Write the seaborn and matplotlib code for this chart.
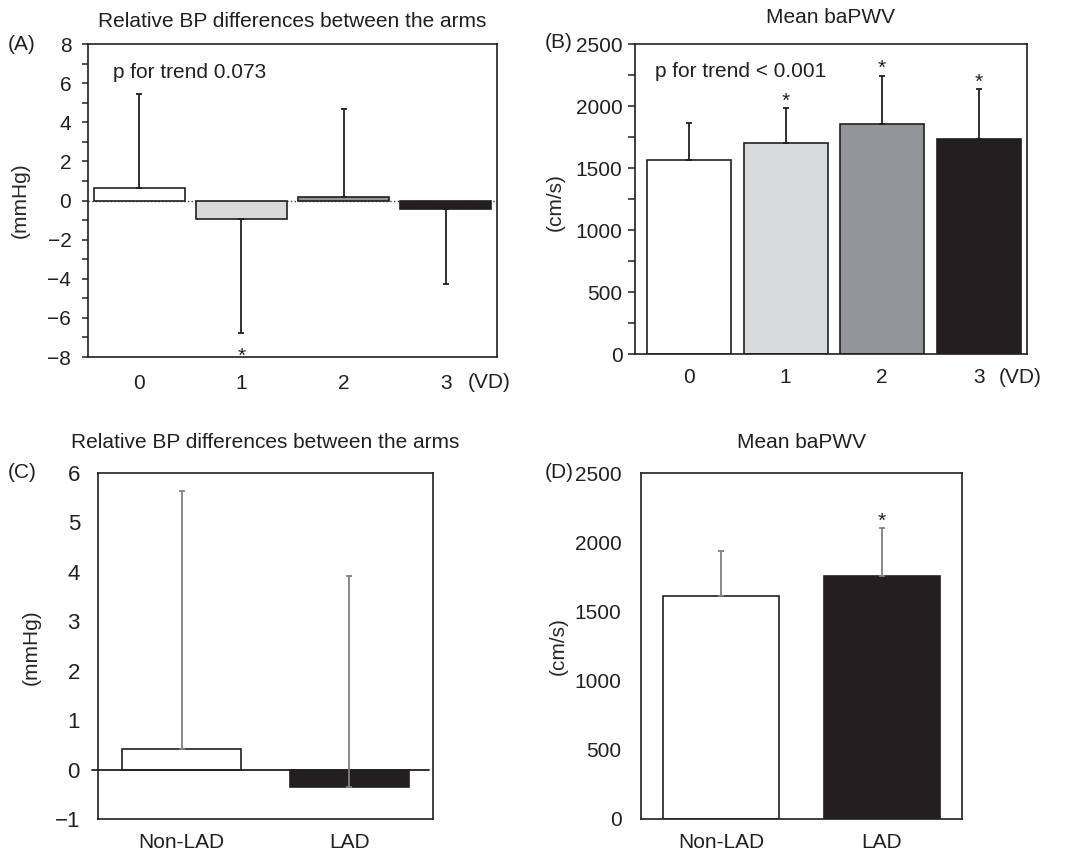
import numpy as np
import pandas as pd
import matplotlib
matplotlib.use("Agg")
import matplotlib.pyplot as plt
from matplotlib.ticker import MultipleLocator
import seaborn as sns

# ---------------- data ----------------
vd_groups = ["0", "1", "2", "3"]
bp_vd_mean = [0.65, -0.95, 0.18, -0.45]
bp_vd_sd = [4.8, 5.8, 4.5, 3.8]
pwv_vd_mean = [1562, 1704, 1857, 1731]
pwv_vd_sd = [298, 277, 388, 403]
pwv_vd_sig = [False, True, True, True]
bp_vd_sig = [False, True, False, False]

lad_groups = ["Non-LAD", "LAD"]
bp_lad_mean = [0.41, -0.35]
bp_lad_sd = [5.23, 4.26]
pwv_lad_mean = [1610, 1754]
pwv_lad_sd = [329, 349]
pwv_lad_sig = [False, True]

vd_colors = ["#ffffff", "#d9dadb", "#939598", "#231f20"]
lad_colors = ["#ffffff", "#231f20"]

# ---------------- style ----------------
sns.set_theme(style="white")
plt.rcParams["font.family"] = ["Liberation Sans", "DejaVu Sans"]
plt.rcParams["axes.edgecolor"] = "#231f20"
plt.rcParams["text.color"] = "#231f20"
plt.rcParams["xtick.color"] = "#231f20"
plt.rcParams["ytick.color"] = "#231f20"

W, H = 1071, 857
fig = plt.figure(figsize=(W / 100, H / 100), dpi=100)
fig.patch.set_facecolor("white")


def add_ax(l, r, t, b):
    return fig.add_axes([l / W, 1 - b / H, (r - l) / W, (b - t) / H])


FS = 15


def bars(ax, cats, means, colors, width, edge_lw):
    df = pd.DataFrame({"g": cats, "v": means})
    sns.barplot(data=df, x="g", y="v", hue="g", palette=colors, ax=ax,
                width=width, edgecolor="#231f20", linewidth=edge_lw,
                errorbar=None, legend=False, saturation=1, order=cats,
                hue_order=cats)


def style_spines(ax, lw):
    for s in ax.spines.values():
        s.set_visible(True)
        s.set_linewidth(lw)
        s.set_color("#231f20")


# ---------------- Panel A ----------------
axA = add_ax(88, 497, 44, 357)
bars(axA, vd_groups, bp_vd_mean, vd_colors, 0.89, 1.2)
x = np.arange(len(vd_groups))
lower = [sd if m < 0 else 0 for m, sd in zip(bp_vd_mean, bp_vd_sd)]
upper = [sd if m >= 0 else 0 for m, sd in zip(bp_vd_mean, bp_vd_sd)]
axA.errorbar(x, bp_vd_mean, yerr=[lower, upper], fmt="none", ecolor="#231f20",
             elinewidth=1.3, capsize=2, capthick=1.3, zorder=1)
axA.axhline(0, color="#444444", lw=1.0, ls=":", zorder=0)
axA.set_xlim(-0.5, 3.5)
axA.set_ylim(-8, 8)
axA.yaxis.set_major_locator(MultipleLocator(2))
axA.yaxis.set_minor_locator(MultipleLocator(1))
axA.tick_params(axis="y", which="both", left=True, direction="out", length=4,
                width=1.1, pad=8, labelsize=FS)
axA.tick_params(axis="x", length=0, pad=12, labelsize=FS)
style_spines(axA, 1.2)
axA.set_xlabel("")
axA.set_ylabel("(mmHg)", fontsize=FS)
axA.yaxis.set_label_coords(-0.142, 0.5)
axA.set_title("Relative BP differences between the arms", fontsize=FS, pad=12)
axA.text(0.06, 0.91, "p for trend 0.073", transform=axA.transAxes,
         fontsize=FS, va="center", ha="left")
for xi, m, sd, sig in zip(x, bp_vd_mean, bp_vd_sd, bp_vd_sig):
    if sig:
        axA.annotate("*", (xi, m - sd), xytext=(0, -21), textcoords="offset points",
                     ha="center", va="baseline", fontsize=FS)
axA.annotate("(VD)", (3.42, -0.083), xycoords=("data", "axes fraction"),
             ha="center", va="center", fontsize=FS, annotation_clip=False)
fig.text(22 / W, 1 - 44 / H, "(A)", fontsize=FS, ha="center", va="center")

# ---------------- Panel B ----------------
axB = add_ax(635, 1027, 44, 354)
bars(axB, vd_groups, pwv_vd_mean, vd_colors, 0.87, 1.2)
axB.errorbar(x, pwv_vd_mean, yerr=[[0] * 4, pwv_vd_sd], fmt="none",
             ecolor="#231f20", elinewidth=1.3, capsize=2, capthick=1.3, zorder=1)
axB.set_xlim(-0.56, 3.5)
axB.set_ylim(0, 2500)
axB.yaxis.set_major_locator(MultipleLocator(500))
axB.yaxis.set_minor_locator(MultipleLocator(250))
axB.tick_params(axis="y", which="both", left=True, direction="out", length=5,
                width=1.1, pad=4, labelsize=FS)
axB.tick_params(axis="x", length=0, pad=10, labelsize=FS)
style_spines(axB, 1.2)
axB.set_xlabel("")
axB.set_ylabel("(cm/s)", fontsize=FS)
axB.yaxis.set_label_coords(-0.179, 0.49)
axB.set_title("Mean baPWV", fontsize=FS, pad=15)
axB.text(0.05, 0.91, "p for trend < 0.001", transform=axB.transAxes,
         fontsize=FS, va="center", ha="left")
for xi, m, sd, sig in zip(x, pwv_vd_mean, pwv_vd_sd, pwv_vd_sig):
    if sig:
        axB.annotate("*", (xi, m + sd), xytext=(0, 1), textcoords="offset points",
                     ha="center", va="baseline", fontsize=FS)
axB.annotate("(VD)", (3.43, -0.077), xycoords=("data", "axes fraction"),
             ha="center", va="center", fontsize=FS, annotation_clip=False)
fig.text(559 / W, 1 - 43 / H, "(B)", fontsize=FS, ha="center", va="center")

# ---------------- Panel C ----------------
axC = add_ax(98, 433, 473, 819)
bars(axC, lad_groups, bp_lad_mean, lad_colors, 0.71, 1.2)
x2 = np.arange(len(lad_groups))
axC.errorbar(x2, bp_lad_mean, yerr=[[0, 0], bp_lad_sd], fmt="none",
             ecolor="#808080", elinewidth=1.3, capsize=2.5, capthick=1.3, zorder=3)
axC.axhline(0, xmin=-0.018, xmax=0.988, color="#231f20", lw=1.3, zorder=2,
            clip_on=False)
axC.set_xlim(-0.5, 1.5)
axC.set_ylim(-1, 6)
axC.yaxis.set_major_locator(MultipleLocator(1))
axC.tick_params(axis="y", left=False, pad=7, labelsize=FS + 1)
axC.tick_params(axis="x", length=0, pad=10, labelsize=FS)
style_spines(axC, 1.2)
axC.set_xlabel("")
axC.set_ylabel("(mmHg)", fontsize=FS)
axC.yaxis.set_label_coords(-0.170, 0.497)
axC.set_title("Relative BP differences between the arms", fontsize=FS, pad=18)
fig.text(22 / W, 1 - 473 / H, "(C)", fontsize=FS, ha="center", va="center")

# ---------------- Panel D ----------------
axD = add_ax(641, 962, 473, 819)
bars(axD, lad_groups, pwv_lad_mean, lad_colors, 0.72, 1.2)
axD.errorbar(x2, pwv_lad_mean, yerr=[[0, 0], pwv_lad_sd], fmt="none",
             ecolor="#808080", elinewidth=1.3, capsize=2, capthick=1.3, zorder=1)
axD.set_xlim(-0.5, 1.5)
axD.set_ylim(0, 2500)
axD.yaxis.set_major_locator(MultipleLocator(500))
axD.tick_params(axis="y", left=False, pad=8, labelsize=FS)
axD.tick_params(axis="x", length=0, pad=10, labelsize=FS)
style_spines(axD, 1.2)
axD.set_xlabel("")
axD.set_ylabel("(cm/s)", fontsize=FS)
axD.yaxis.set_label_coords(-0.227, 0.5)
axD.set_title("Mean baPWV", fontsize=FS, pad=18)
for xi, m, sd, sig in zip(x2, pwv_lad_mean, pwv_lad_sd, pwv_lad_sig):
    if sig:
        axD.annotate("*", (xi, m + sd), xytext=(0, 1), textcoords="offset points",
                     ha="center", va="baseline", fontsize=FS)
fig.text(559 / W, 1 - 473 / H, "(D)", fontsize=FS, ha="center", va="center")

fig.savefig("out.png", dpi=100, facecolor="white")
